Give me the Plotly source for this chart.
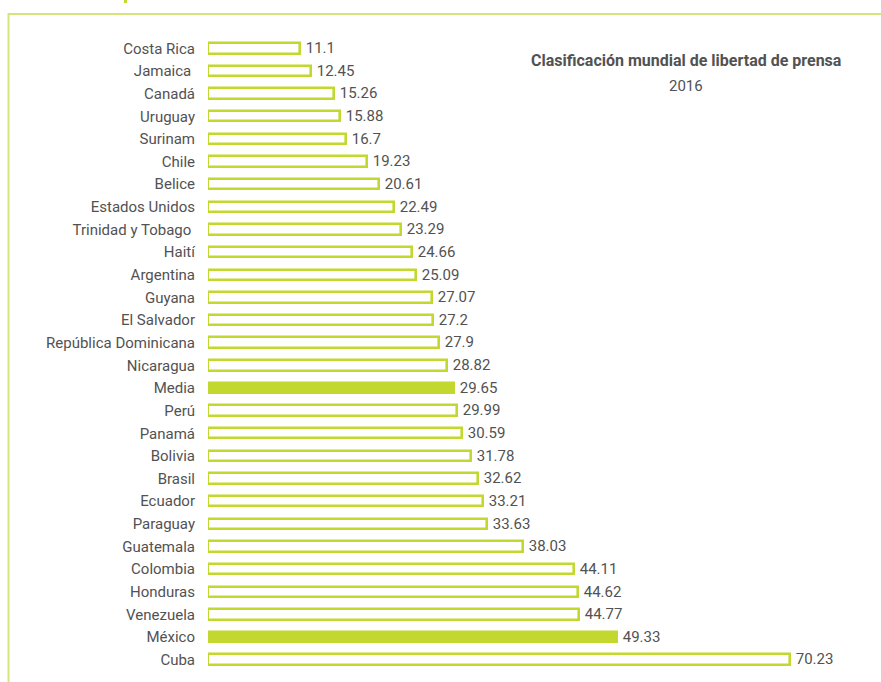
import plotly.graph_objects as go

# Press freedom scores 2016 (lower is better)
countries = [
    "Costa Rica", "Jamaica\u00a0", "Canadá", "Uruguay", "Surinam", "Chile", "Belice",
    "Estados Unidos", "Trinidad y Tobago\u00a0", "Haití", "Argentina", "Guyana",
    "El Salvador", "República Dominicana", "Nicaragua", "Media", "Perú", "Panamá",
    "Bolivia", "Brasil", "Ecuador", "Paraguay", "Guatemala", "Colombia",
    "Honduras", "Venezuela", "México", "Cuba",
]
scores = [
    11.1, 12.45, 15.26, 15.88, 16.7, 19.23, 20.61, 22.49, 23.29, 24.66, 25.09,
    27.07, 27.2, 27.9, 28.82, 29.65, 29.99, 30.59, 31.78, 32.62, 33.21, 33.63,
    38.03, 44.11, 44.62, 44.77, 49.33, 70.23,
]
highlighted = ["Media", "México"]

GREEN = "#c3d82e"
FRAME = "#d5e57c"
TEXT = "#525252"
FONT = "Roboto"
SIZE = 15

W, H = 881, 682
L, R, T, B = 208, 0, 37, 11
PX_PER_UNIT = 8.287
x_max = (W - L - R) / PX_PER_UNIT

fills = [GREEN if c in highlighted else "white" for c in countries]

fig = go.Figure(
    go.Bar(
        x=scores,
        y=countries,
        orientation="h",
        width=0.46,
        marker=dict(color=fills, line=dict(color=GREEN, width=2.6)),
        text=[f"\u2009{v:g}" for v in scores],
        textposition="outside",
        textfont=dict(family=FONT, size=SIZE, color=TEXT),
        cliponaxis=False,
        hoverinfo="skip",
    )
)


def px_x(px):
    return (px - L) / (W - L - R)


def px_y(py):
    return (H - B - py) / (H - T - B)


shapes = [
    # frame: top rule and left rule
    dict(type="line", xref="paper", yref="paper",
         x0=px_x(8), x1=px_x(W + 2), y0=px_y(14), y1=px_y(14),
         line=dict(color=FRAME, width=2)),
    dict(type="line", xref="paper", yref="paper",
         x0=px_x(8.5), x1=px_x(8.5), y0=px_y(13), y1=px_y(H + 2),
         line=dict(color=FRAME, width=2)),
    # tail of the heading glyph above the frame
    dict(type="rect", xref="paper", yref="paper",
         x0=px_x(124), x1=px_x(127), y0=px_y(0), y1=px_y(3),
         fillcolor=GREEN, line=dict(width=0)),
]

fig.update_layout(
    width=W,
    height=H,
    margin=dict(l=L, r=R, t=T, b=B, pad=0),
    paper_bgcolor="white",
    plot_bgcolor="white",
    showlegend=False,
    bargap=0,
    shapes=shapes,
    font=dict(family=FONT, color=TEXT),
    uniformtext=dict(minsize=SIZE, mode="show"),
    xaxis=dict(range=[0, x_max], visible=False, fixedrange=True),
    yaxis=dict(
        categoryorder="array",
        categoryarray=countries,
        range=[len(countries) - 0.5, -0.5],
        showgrid=False,
        zeroline=False,
        showline=False,
        ticks="",
        ticklabelstandoff=12,
        tickfont=dict(family=FONT, size=SIZE, color=TEXT),
        fixedrange=True,
    ),
    annotations=[
        dict(xref="paper", yref="paper", x=px_x(686), y=px_y(61),
             text="<b>Clasificación mundial de libertad de prensa</b>",
             showarrow=False, xanchor="center", yanchor="middle",
             font=dict(family=FONT, size=16, color=TEXT)),
        dict(xref="paper", yref="paper", x=px_x(686), y=px_y(86),
             text="2016", showarrow=False, xanchor="center", yanchor="middle",
             font=dict(family=FONT, size=SIZE, color=TEXT)),
    ],
)

fig.write_html("out.html", config={"displayModeBar": False})
